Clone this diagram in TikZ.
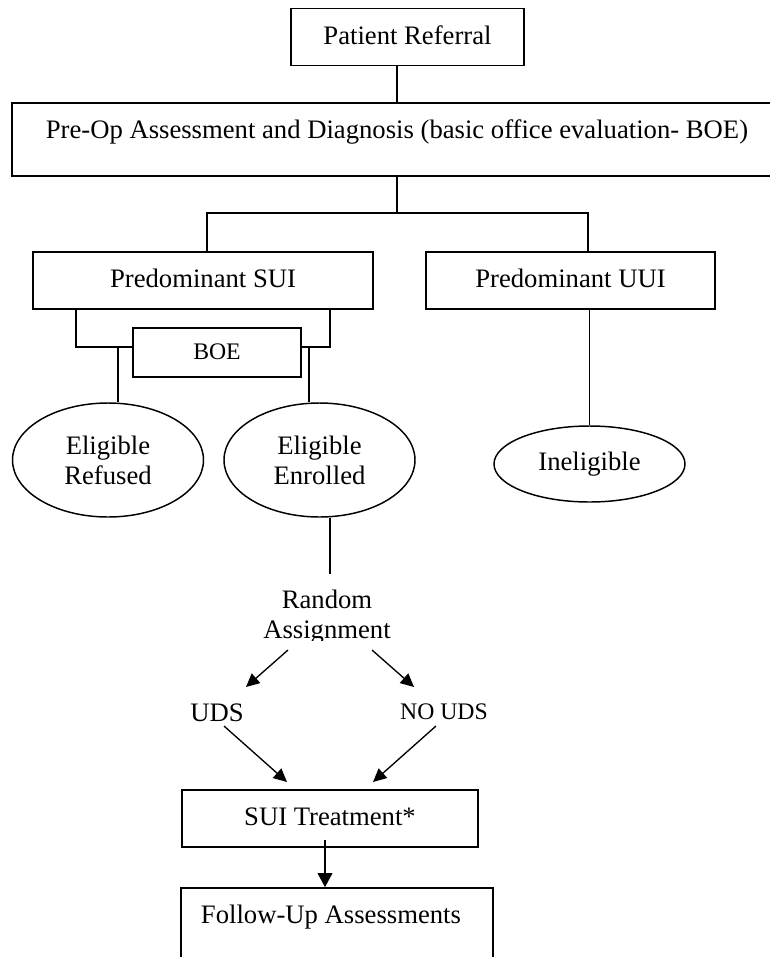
\documentclass[tikz,border=0pt]{standalone}
\usepackage{fontspec}
\setmainfont{Liberation Serif}
\usetikzlibrary{shapes.geometric,arrows.meta}
\begin{document}
\begin{tikzpicture}[x=0.75pt,y=-0.75pt,
  box/.style={draw,line width=1.2pt,inner sep=0pt,text height=14pt,text depth=2.8pt,font=\fontsize{20}{22.5}\selectfont},
  oval/.style={draw,ellipse,line width=1.1pt,inner sep=0pt,align=center,font=\fontsize{20}{22.5}\selectfont},
  txt/.style={inner sep=0pt,align=center,font=\fontsize{20}{22.5}\selectfont},
  smalltxt/.style={font=\fontsize{17.8}{21}\selectfont},
  conn/.style={line width=1pt},
  arr/.style={line width=1pt,-{Triangle[length=10pt,width=9.5pt]}},
  bigarr/.style={line width=1pt,-{Triangle[length=10.5pt,width=11pt]}}]
\useasboundingbox (0,0) rectangle (770,957);
\fill[white] (0,0) rectangle (770,957);
\clip (0,0) rectangle (770,957);

% boxes
\node[box,minimum width=174.75pt,minimum height=42.75pt] (pr) at (407.5,36.8) {Patient Referral};
\node[box,minimum width=591pt,minimum height=54.75pt] (preop) at (406,139.2) {};
\node[txt,anchor=base] (preoptext) at (397,138.5) {Pre-Op Assessment and Diagnosis (basic office evaluation- BOE)};
\node[box,minimum width=255pt,minimum height=42.75pt] (sui) at (203,280.5) {Predominant SUI};
\node[box,minimum width=216.75pt,minimum height=42.75pt] (uui) at (570.5,280.5) {Predominant UUI};
\node[box,smalltxt,minimum width=126pt,minimum height=36.75pt] (boe) at (217,352.5) {BOE};

% ellipses
\node[oval,minimum width=143.25pt,minimum height=85.5pt] (ref) at (108,460) {Eligible\\Refused};
\node[oval,minimum width=143.25pt,minimum height=85.5pt] (enr) at (319.5,460) {Eligible\\Enrolled};
\node[oval,minimum width=143.25pt,minimum height=57pt] (inel) at (589.5,464) {Ineligible};

% random assignment (descender clipped as in the reference)
\begin{scope}
\clip (200,570) rectangle (460,640);
\node[txt] (ra) at (327,616.8) {Random\\Assignment};
\end{scope}

\node[txt,anchor=base] (uds) at (217,721.5) {UDS};
\node[txt,smalltxt,anchor=base] (nouds) at (444,719) {NO UDS};

\node[box,minimum width=222pt,minimum height=42.75pt] (suit) at (330,818.5) {SUI Treatment*};
\node[box,minimum width=234pt,minimum height=84pt] (fubox) at (337,944) {};
\node[txt,anchor=base] (futext) at (331,923.3) {Follow-Up Assessments};

% connectors
\coordinate (trunk) at (397,213);
\coordinate (sl) at (207,213);
\coordinate (sr) at (588,213);
\draw[conn] (trunk |- pr.south) -- (trunk |- preop.north);
\draw[conn] (trunk |- preop.south) -- (trunk);
\draw[conn] (sl |- sui.north) -- (sl) -- (sr) -- (sr |- uui.north);

\coordinate (bl) at (76,347);
\coordinate (br) at (330,347);
\coordinate (rl) at (118,347);
\coordinate (el) at (309,347);
\draw[conn] (bl |- sui.south) -- (bl) -- (bl -| boe.west);
\draw[conn] (br |- sui.south) -- (br) -- (br -| boe.east);
\draw[conn] (rl) -- (rl |- ref.north);
\draw[conn] (el) -- (el |- enr.north);
\draw[conn] (inel.north |- uui.south) -- (inel.north);

\coordinate (ed) at (330,574);
\draw[conn] (ed |- enr.south) -- (ed);

% arrows
\coordinate (ra1) at (288,650);
\coordinate (ra1e) at (246,687);
\coordinate (ra2) at (372,650);
\coordinate (ra2e) at (414,687);
\draw[arr] (ra1) -- (ra1e);
\draw[arr] (ra2) -- (ra2e);
\coordinate (u1) at (224,726);
\coordinate (u1e) at (287,782);
\coordinate (n1) at (436,726);
\coordinate (n1e) at (373,782);
\draw[arr] (u1) -- (u1e);
\draw[arr] (n1) -- (n1e);
\coordinate (ts) at (325,840);
\draw[bigarr] (ts) -- (ts |- fubox.north);
\end{tikzpicture}
\end{document}
